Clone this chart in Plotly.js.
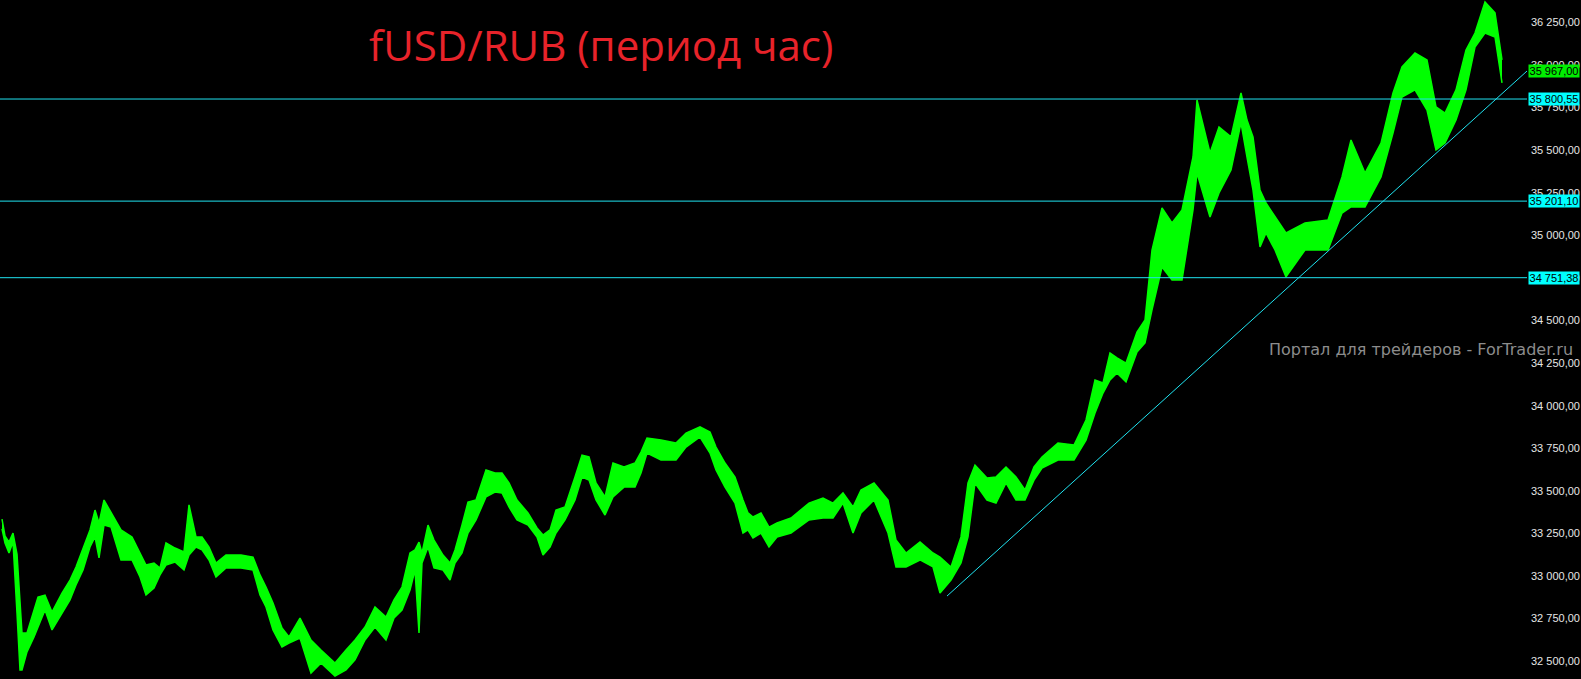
<!DOCTYPE html>
<html>
<head>
<meta charset="utf-8">
<script src="https://cdn.plot.ly/plotly-3.0.1.min.js"></script>
<style>
html,body{margin:0;padding:0;background:#000;}
#chart{width:1581px;height:679px;}
</style>
</head>
<body>
<div id="chart"></div>
<script>
// Bar index (hour number) of each sampled group of bars
const barX = [2,5,9,13,17,20,22,27,34,38,45,52,62,70,76,83,90,95,99,104,111,121,132,140,146,154,160,166,175,184,189,196,202,209,216,226,241,253,260,266,273,282,289,300,311,321,335,346,355,365,375,386,394,402,410,415,419,422,428,434,443,450,455,462,468,476,486,495,502,509,517,528,537,543,550,556,565,575,582,589,596,605,613,624,635,641,647,661,676,686,700,710,716,725,735,743,748,753,761,769,777,791,809,823,833,843,853,861,874,888,896,906,920,933,940,951,961,968,975,987,996,1006,1016,1025,1034,1042,1058,1074,1086,1095,1103,1110,1117,1126,1137,1145,1152,1162,1172,1182,1193,1197,1210,1219,1231,1241,1247,1253,1260,1266,1275,1286,1305,1328,1342,1351,1365,1381,1393,1402,1415,1427,1436,1445,1456,1466,1475,1485,1495,1502];
// High of each group
const barHigh = [33334,33235,33199,33252,33129,32859,32665,32665,32800,32876,32888,32788,32900,32976,33053,33164,33270,33387,33311,33446,33370,33270,33229,33135,33064,33076,33047,33194,33164,33141,33417,33229,33229,33170,33076,33123,33123,33111,33006,32935,32841,32694,32642,32753,32624,32565,32489,32565,32624,32700,32818,32759,32859,32935,33135,33153,33199,33135,33299,33211,33123,33076,33153,33299,33434,33446,33622,33605,33605,33546,33446,33370,33282,33240,33270,33387,33405,33581,33710,33699,33546,33464,33663,33640,33663,33728,33810,33798,33781,33839,33875,33845,33757,33663,33581,33446,33370,33346,33370,33287,33311,33340,33428,33458,33428,33487,33405,33505,33546,33446,33211,33135,33199,33135,33111,33053,33229,33546,33651,33575,33581,33640,33581,33505,33640,33699,33781,33769,33916,34151,34133,34309,34280,34250,34432,34503,34914,35161,35073,35149,35460,35795,35484,35636,35578,35836,35677,35578,35266,35190,35108,35014,35073,35090,35343,35560,35366,35542,35836,35989,36071,36030,35754,35718,35854,36088,36188,36370,36306,36030];
// Low of each group
const barLow = [33276,33194,33135,33199,32782,32448,32448,32554,32642,32700,32800,32683,32782,32859,32947,33035,33170,33229,33106,33299,33287,33094,33094,32994,32888,32929,33006,33064,33082,33035,33123,33170,33153,33094,32994,33047,33047,33035,32888,32818,32683,32583,32606,32636,32430,32489,32412,32448,32507,32624,32700,32624,32753,32800,32918,33035,32665,33076,33170,33047,33035,32976,33076,33135,33252,33329,33464,33493,33487,33405,33329,33299,33229,33123,33170,33252,33329,33446,33581,33563,33446,33358,33464,33522,33522,33605,33722,33681,33681,33757,33816,33722,33622,33522,33428,33252,33270,33223,33252,33170,33229,33252,33329,33340,33340,33428,33252,33370,33446,33252,33053,33053,33094,33053,32900,32976,33076,33229,33546,33446,33428,33546,33446,33446,33563,33634,33681,33681,33798,33957,34074,34151,34192,34139,34315,34368,34562,34814,34738,34738,35149,35366,35108,35249,35384,35660,35460,35266,34932,35014,34914,34756,34914,34914,35131,35167,35167,35343,35601,35812,35854,35736,35501,35542,35677,35854,36106,36188,36165,35895];

const levelValues = [35800.55, 35201.10, 34751.38];
const levelLabels = ['35 800,55', '35 201,10', '34 751,38'];
const lastPrice = 35967.00;
const lastPriceLabel = '35 967,00';
const trendX = [947, 1527];
const trendY = [32882, 35965];
const tickValues = [32500,32750,33000,33250,33500,33750,34000,34250,34500,34750,35000,35250,35500,35750,36000,36250];
const titleText = 'fUSD/RUB (период час)';
const watermarkText = 'Портал для трейдеров - ForTrader.ru';

const W = 1581, H = 679, R = 54;
const plotW = W - R;

const traces = [
  {x: barX, y: barLow, type: 'scatter', mode: 'lines',
   line: {color: '#00ff00', width: 1.5}, hoverinfo: 'skip', showlegend: false},
  {x: barX, y: barHigh, type: 'scatter', mode: 'lines', fill: 'tonexty',
   fillcolor: '#00ff00', line: {color: '#00ff00', width: 1.5}, hoverinfo: 'skip', showlegend: false},
  {x: trendX, y: trendY, type: 'scatter', mode: 'lines',
   line: {color: '#1fe3f0', width: 1}, hoverinfo: 'skip', showlegend: false}
];

const shapes = levelValues.map(v => ({
  type: 'line', xref: 'paper', x0: 0, x1: 1, yref: 'y', y0: v, y1: v,
  line: {color: '#1fe3f0', width: 1}
}));

const annotations = levelValues.map((v, i) => ({
  xref: 'paper', x: 1, xanchor: 'left', xshift: 1,
  yref: 'y', y: v, yanchor: 'middle',
  text: levelLabels[i], showarrow: false,
  bgcolor: '#00ffff', width: 50, height: 12, borderpad: 0,
  font: {family: 'Liberation Sans, Arial, sans-serif', size: 11, color: '#000'}
}));
annotations.push({
  xref: 'paper', x: 1, xanchor: 'left', xshift: 1,
  yref: 'y', y: lastPrice, yanchor: 'middle',
  text: lastPriceLabel, showarrow: false,
  bgcolor: '#00ee00', width: 50, height: 12, borderpad: 0,
  font: {family: 'Liberation Sans, Arial, sans-serif', size: 11, color: '#000'}
});
annotations.push({
  xref: 'paper', x: 600.5 / plotW, xanchor: 'center',
  yref: 'paper', y: 1 - 45 / H, yanchor: 'middle',
  text: titleText, showarrow: false,
  font: {family: 'Open Sans, sans-serif', size: 42, color: '#e8232a'}
});
annotations.push({
  xref: 'paper', x: 1575 / plotW, xanchor: 'right',
  yref: 'paper', y: 1 - 350 / H, yanchor: 'middle',
  text: watermarkText, showarrow: false,
  font: {family: 'DejaVu Sans, sans-serif', size: 16, color: '#8c8c8c'}
});

const layout = {
  width: W, height: H,
  margin: {l: 0, r: R, t: 0, b: 0, pad: 0},
  paper_bgcolor: '#000', plot_bgcolor: '#000',
  separators: ', ',
  showlegend: false,
  xaxis: {range: [0, plotW], visible: false, fixedrange: true},
  yaxis: {
    range: [32395, 36382], side: 'right',
    tickvals: tickValues, tickformat: ',.2f',
    showgrid: false, zeroline: false, showline: false, ticks: '',
    ticklabelstandoff: 3,
    tickfont: {family: 'Liberation Sans, Arial, sans-serif', size: 11, color: '#e6e6e6'},
    fixedrange: true
  },
  shapes: shapes,
  annotations: annotations
};

Plotly.newPlot('chart', traces, layout, {displayModeBar: false, staticPlot: true});
</script>
</body>
</html>
